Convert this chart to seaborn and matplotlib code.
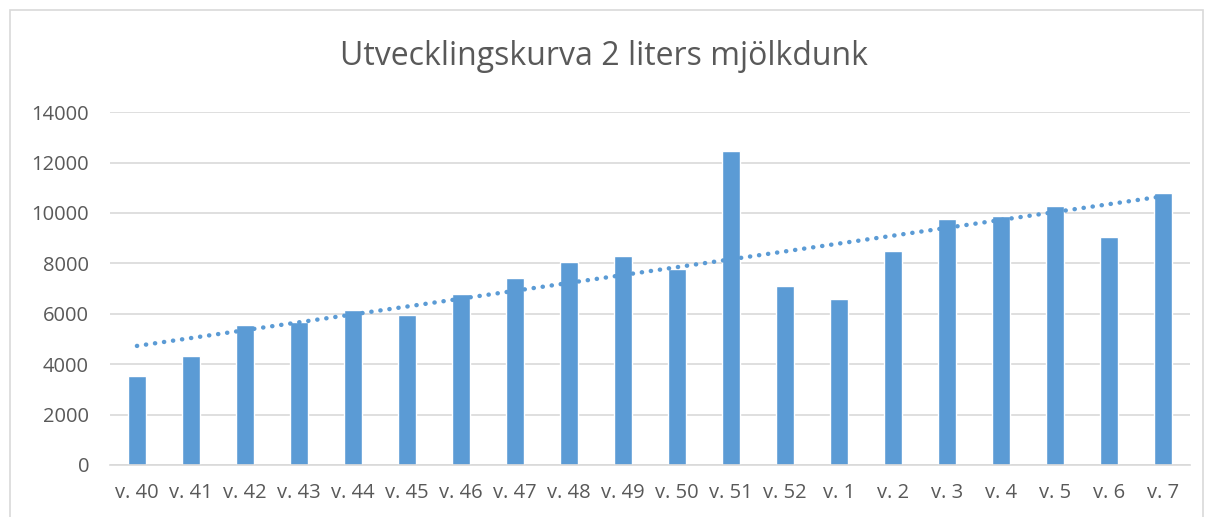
import matplotlib
matplotlib.use("Agg")
import matplotlib.pyplot as plt
import numpy as np
import pandas as pd
import seaborn as sns
from matplotlib.patches import Rectangle

veckor = ["v. 40", "v. 41", "v. 42", "v. 43", "v. 44", "v. 45", "v. 46", "v. 47",
          "v. 48", "v. 49", "v. 50", "v. 51", "v. 52", "v. 1", "v. 2", "v. 3",
          "v. 4", "v. 5", "v. 6", "v. 7"]
antal = [3540, 4320, 5560, 5670, 6150, 5950, 6780, 7410, 8060, 8290,
         7780, 12450, 7100, 6590, 8490, 9760, 9870, 10270, 9040, 10790]

BLA = "#5B9BD5"
GRA = "#595959"

df = pd.DataFrame({"vecka": veckor, "antal": antal, "pos": np.arange(len(veckor))})

sns.set_theme(style="white")
plt.rcParams["font.family"] = ["Open Sans", "DejaVu Sans"]

fig = plt.figure(figsize=(12.08, 5.17), dpi=100)
ax = fig.add_axes([0.091, 0.1006, 0.894, 0.6824])

sns.barplot(data=df, x="vecka", y="antal", color=BLA, saturation=1, width=0.32, ax=ax, zorder=2)
# linjär trendlinje som i Excel
sns.regplot(data=df, x="pos", y="antal", scatter=False, ci=None, truncate=True, ax=ax,
            line_kws={"color": BLA, "linestyle": (0, (0.05, 2.0)), "linewidth": 3.2,
                      "dash_capstyle": "round", "zorder": 3})

ax.set_ylim(0, 14000)
ax.set_xlim(-0.5, len(veckor) - 0.5)
ax.set_yticks(range(0, 14001, 2000))
ax.yaxis.grid(True, color="#D9D9D9", linewidth=1.2, zorder=0)
ax.set_axisbelow(True)
for side in ["top", "right", "left"]:
    ax.spines[side].set_visible(False)
ax.spines["bottom"].set_color("#D9D9D9")
ax.spines["bottom"].set_linewidth(1.2)
ax.tick_params(axis="both", length=0, labelsize=14.5, colors=GRA)
ax.tick_params(axis="x", pad=13)
ax.tick_params(axis="y", pad=15)
ax.set_xlabel("")
ax.set_ylabel("")

fig.text(0.5, 0.89, "Utvecklingskurva 2 liters mjölkdunk", ha="center", va="center",
         fontsize=23, color=GRA)

fig.patches.append(Rectangle((0.008, -0.05), 0.988, 1.03, transform=fig.transFigure,
                             fill=False, edgecolor="#D9D9D9", linewidth=1.2))

fig.savefig("out.png", dpi=100)
